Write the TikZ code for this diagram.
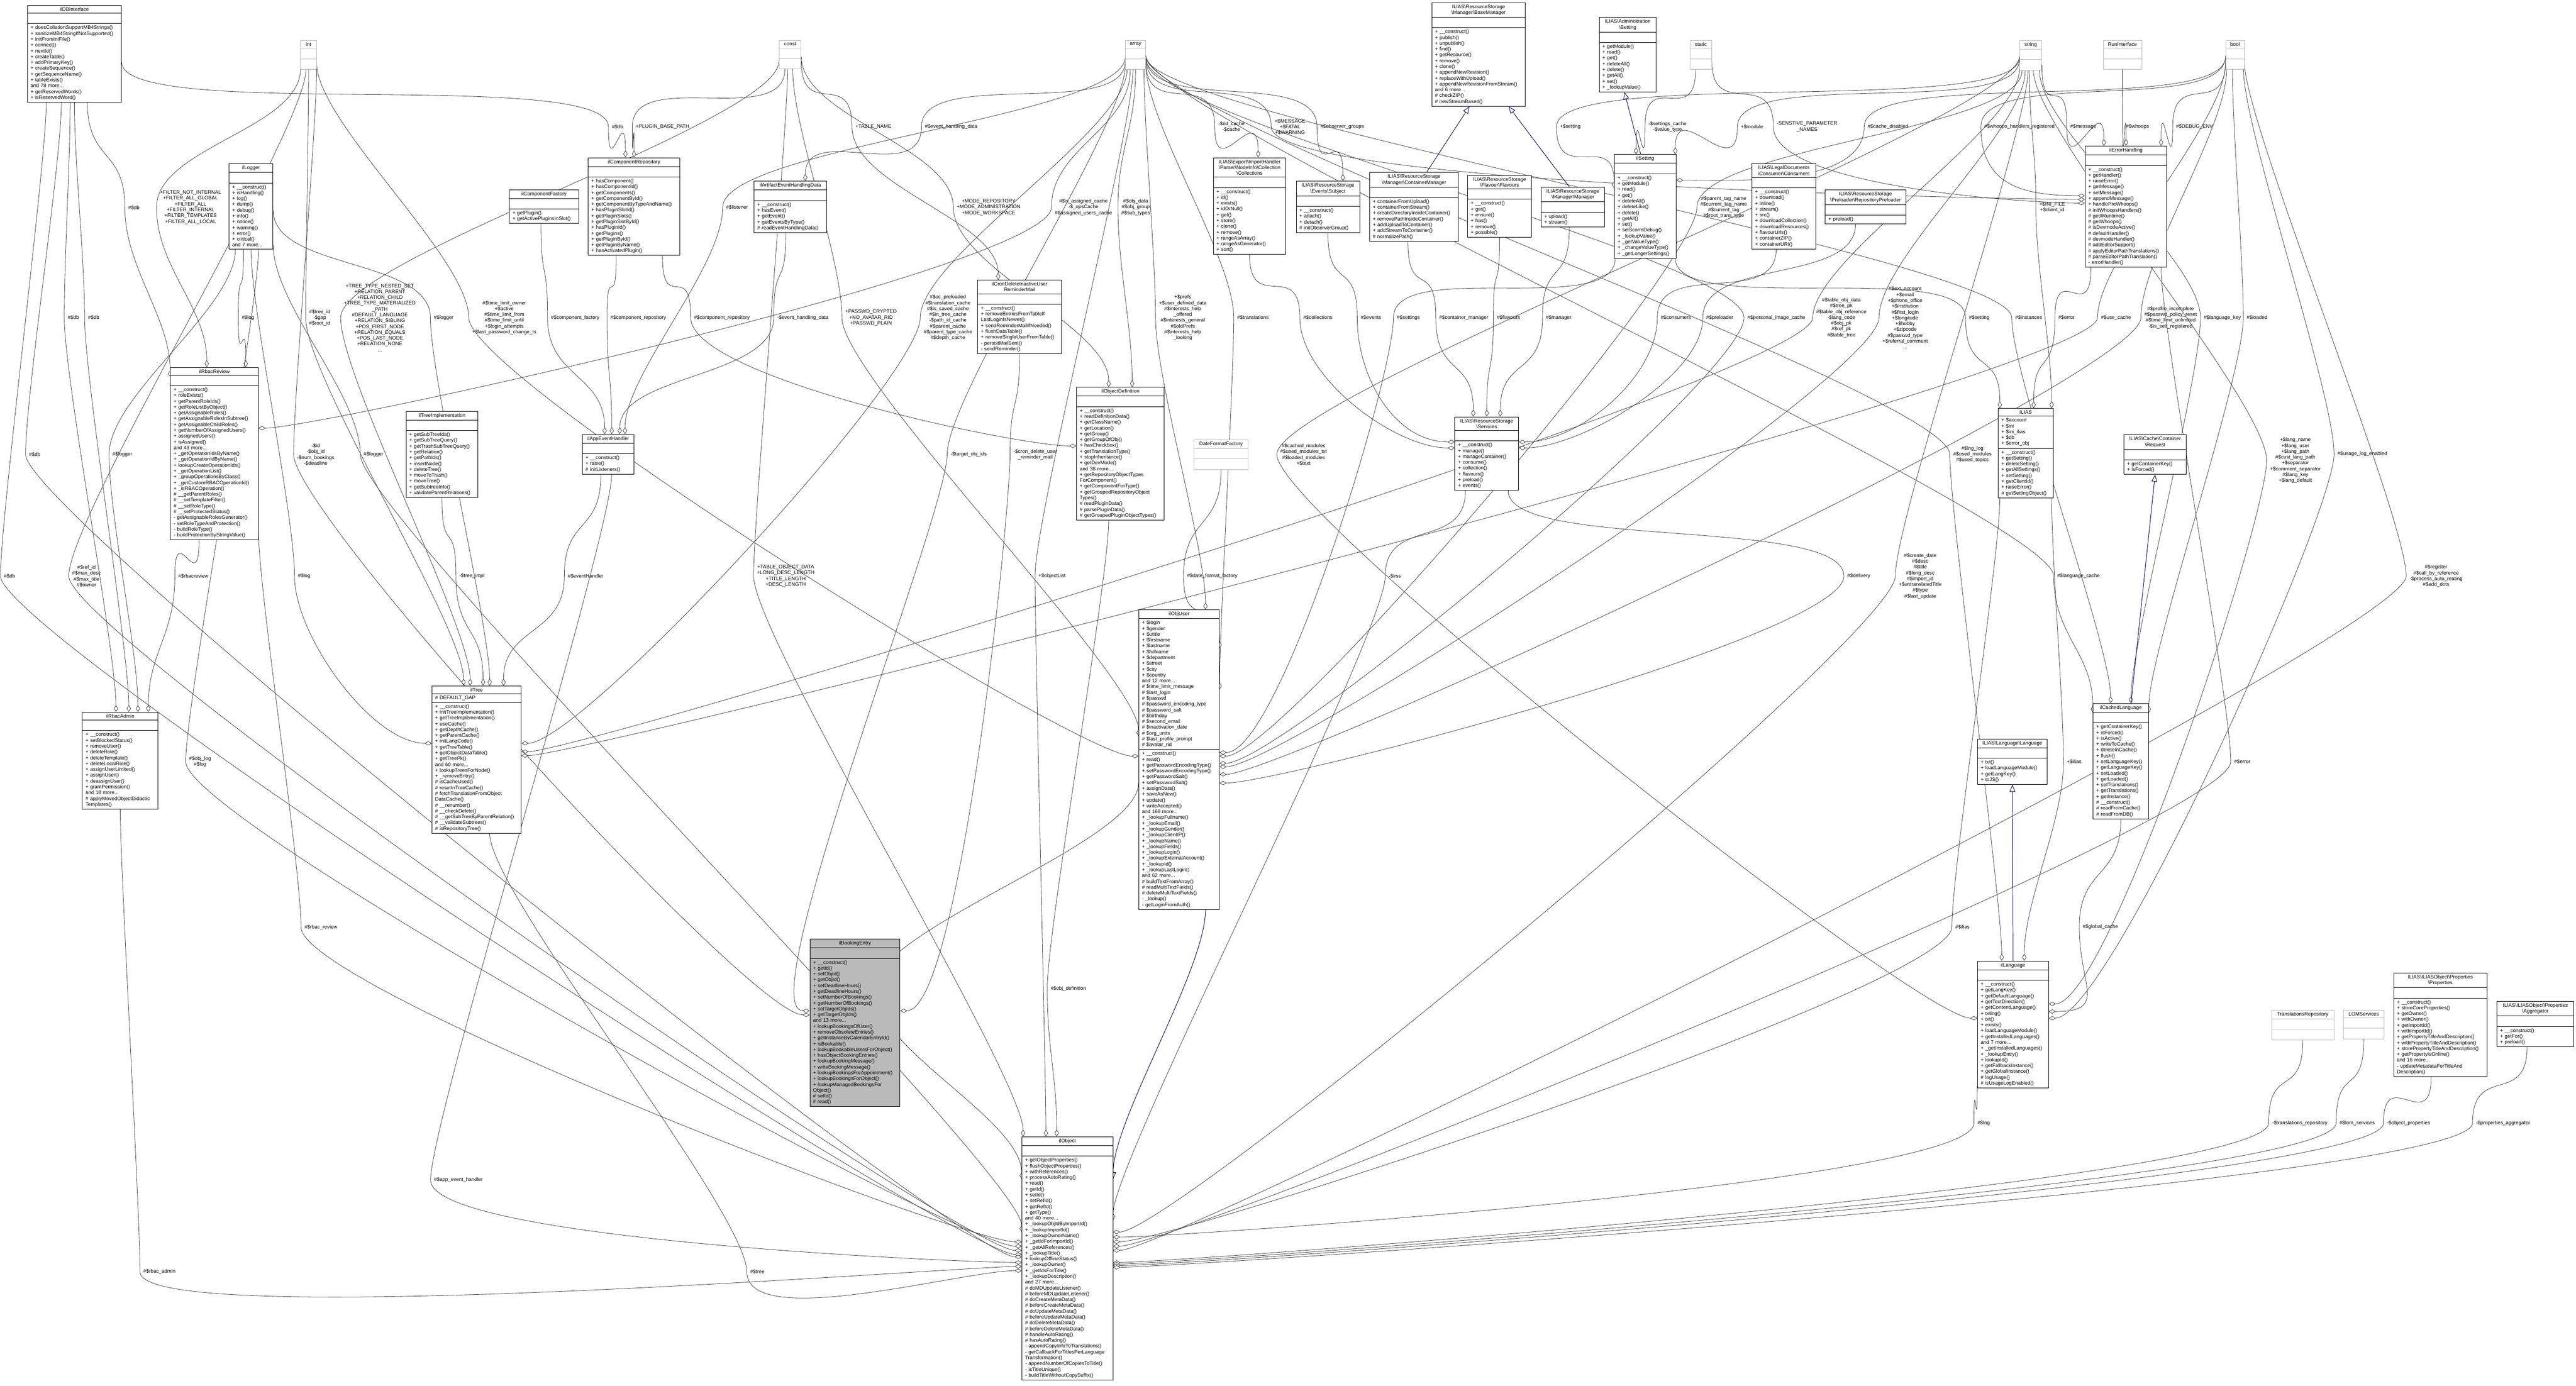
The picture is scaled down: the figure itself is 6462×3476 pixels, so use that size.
\documentclass[tikz,border=0pt]{standalone}
\usepackage{fontspec}
\setmainfont{Liberation Sans}
\usetikzlibrary{shapes.multipart,arrows.meta}
\pgfdeclarelayer{bg}
\pgfsetlayers{bg,main}
\newcommand\cfont{\fontsize{3.6}{4.15}\selectfont}
\newcommand\E{\rule{0pt}{1.6mm}}
\tikzset{
  x=0.1mm,y=-0.1mm,
  cls/.style={rectangle split,rectangle split parts=3,draw=black,fill=white,line width=0.35pt,
    inner xsep=0.8mm,inner ysep=0.45mm,font=\cfont,align=left,anchor=north west},
  tbox/.style={cls,draw=gray!55},
  lbl/.style={font=\cfont,align=center,inner sep=0pt},
  agg/.style={draw=black!75,line width=0.3pt,-{Diamond[open,fill=white,length=5pt,width=3pt]}},
  inh/.style={draw=blue!40!black,line width=0.35pt,-{Triangle[open,fill=white,length=5pt,width=4pt]}}
}
\newcommand\cls[8][]{\node[cls,#1,text width=\dimexpr #5\dimexpr0.1mm\relax-1.6mm\relax] (#2) at (#3,#4)
  {\parbox{\linewidth}{\centering #6}\nodepart{two}#7\nodepart{three}#8};}
\newcommand\tb[5]{\node[tbox,text width=\dimexpr #4\dimexpr0.1mm\relax-1.6mm\relax] (#1) at (#2,#3)
  {\parbox{\linewidth}{\centering #5}\nodepart{two}\E\nodepart{three}\E};}
\newcommand\rl[5]{\begin{pgfonlayer}{bg}\node[lbl] (tmp) at (#2) {#3};
  \draw[agg] (#1) .. controls +(-90:1.5cm) and +(90:1.5cm) .. ([xshift=-0.8mm]tmp.west)
     .. controls +(-90:1.5cm) and +(#5:1.5cm) .. (#4);\end{pgfonlayer}}
\begin{document}
\begin{tikzpicture}
\useasboundingbox (0,0) rectangle (6462,3476);
\begin{pgfonlayer}{bg}\fill[white] (0,0) rectangle (6462,3476);\end{pgfonlayer}
% type boxes
\tb{int}{754}{101}{39}{int}
\tb{const}{1954}{101}{55}{const}
\tb{array}{2823}{101}{50}{array}
\tb{static}{4239}{101}{54}{static}
\tb{string}{5066}{101}{55}{string}
\tb{runif}{5275}{101}{97}{RunInterface}
\tb{bool}{5583}{101}{46}{bool}
\tb{dff}{2995}{1103}{135}{DateFormatFactory}
\tb{trrepo}{5698}{2533}{156}{TranslationsRepository}
\tb{lom}{5878}{2533}{102}{LOMServices}
% classes
\cls{dbi}{68}{13}{236}{ilDBInterface}{\E}{+ doesCollationSupportMB4Strings()\\+ sanitizeMB4StringIfNotSupported()\\+ initFromIniFile()\\+ connect()\\+ nextId()\\+ createTable()\\+ addPrimaryKey()\\+ createSequence()\\+ getSequenceName()\\+ tableExists()\\and 78 more...\\+ getReservedWords()\\+ isReservedWord()}
\cls{logger}{574}{410}{110}{ilLogger}{\E}{+ \_\_construct()\\+ isHandling()\\+ log()\\+ dump()\\+ debug()\\+ info()\\+ notice()\\+ warning()\\+ error()\\+ critical()\\and 7 more...}
\cls{cfac}{1277}{475}{174}{ilComponentFactory}{\E}{+ getPlugin()\\+ getActivePluginsInSlot()}
\cls{crepo}{1475}{395}{230}{ilComponentRepository}{\E}{+ hasComponent()\\+ hasComponentId()\\+ getComponents()\\+ getComponentById()\\+ getComponentByTypeAndName()\\+ hasPluginSlotId()\\+ getPluginSlots()\\+ getPluginSlotById()\\+ hasPluginId()\\+ getPlugins()\\+ getPluginById()\\+ getPluginByName()\\+ hasActivatedPlugin()}
\cls{aehd}{1891}{454}{182}{ilArtifactEventHandlingData}{\E}{+ \_\_construct()\\+ hasEvent()\\+ getEvent()\\+ getEventsByType()\\\# readEventHandlingData()}
\cls{cron}{2452}{702}{210}{ilCronDeleteInactiveUser\\ReminderMail}{\E}{+ \_\_construct()\\+ removeEntriesFromTableIf\\LastLoginIsNewer()\\+ sendReminderMailIfNeeded()\\+ flushDataTable()\\+ removeSingleUserFromTable()\\- persistMailSent()\\- sendReminder()}
\cls{basemgr}{3591}{6}{235}{ILIAS\textbackslash ResourceStorage\\\textbackslash Manager\textbackslash BaseManager}{\E}{+ \_\_construct()\\+ publish()\\+ unpublish()\\+ find()\\+ getResource()\\+ remove()\\+ clone()\\+ appendNewRevision()\\+ replaceWithUpload()\\+ appendNewRevisionFromStream()\\and 6 more...\\\# checkZIP()\\\# newStreamBased()}
\cls{coll}{3043}{395}{182}{ILIAS\textbackslash Export\textbackslash ImportHandler\\\textbackslash Parser\textbackslash NodeInfo\textbackslash Collection\\\textbackslash Collections}{\E}{+ \_\_construct()\\+ id()\\+ exists()\\+ idOrNull()\\+ get()\\+ store()\\+ clone()\\+ remove()\\+ rangeAsArray()\\+ rangeAsGenerator()\\+ sort()}
\cls{subj}{3251}{454}{159}{ILIAS\textbackslash ResourceStorage\\\textbackslash Events\textbackslash Subject}{\E}{+ \_\_construct()\\+ attach()\\+ detach()\\\# initObserverGroup()}
\cls{contmgr}{3435}{432}{223}{ILIAS\textbackslash ResourceStorage\\\textbackslash Manager\textbackslash ContainerManager}{\E}{+ containerFromUpload()\\+ containerFromStream()\\+ createDirectoryInsideContainer()\\+ removePathInsideContainer()\\+ addUploadToContainer()\\+ addStreamToContainer()\\\# normalizePath()}
\cls{flav}{3681}{439}{160}{ILIAS\textbackslash ResourceStorage\\\textbackslash Flavour\textbackslash Flavours}{\E}{+ \_\_construct()\\+ get()\\+ ensure()\\+ has()\\+ remove()\\+ possible()}
\cls{mgr}{3865}{469}{160}{ILIAS\textbackslash ResourceStorage\\\textbackslash Manager\textbackslash Manager}{\E}{+ upload()\\+ stream()}
\cls{admset}{4011}{43}{143}{ILIAS\textbackslash Administration\\\textbackslash Setting}{\E}{+ getModule()\\+ read()\\+ get()\\+ deleteAll()\\+ delete()\\+ getAll()\\+ set()\\+ \_lookupValue()}
\cls{ilset}{4049}{387}{155}{ilSetting}{\E}{+ \_\_construct()\\+ getModule()\\+ read()\\+ get()\\+ deleteAll()\\+ deleteLike()\\+ delete()\\+ getAll()\\+ set()\\+ setScormDebug()\\+ \_lookupValue()\\+ \_getValueType()\\+ \_changeValueType()\\+ \_getLongerSettings()}
\cls{cons}{4394}{410}{160}{ILIAS\textbackslash LegalDocuments\\\textbackslash Consumer\textbackslash Consumers}{\E}{+ \_\_construct()\\+ download()\\+ inline()\\+ stream()\\+ src()\\+ downloadCollection()\\+ downloadResources()\\+ flavourUrls()\\+ containerZIP()\\+ containerURI()}
\cls{prel}{4578}{476}{202}{ILIAS\textbackslash ResourceStorage\\\textbackslash Preloader\textbackslash RepositoryPreloader}{\E}{+ preload()}
\cls{errh}{5230}{366}{205}{ilErrorHandling}{\E}{+ \_\_construct()\\+ getHandler()\\+ raiseError()\\+ getMessage()\\+ setMessage()\\+ appendMessage()\\+ handlePreWhoops()\\\# initWhoopsHandlers()\\\# getIlRuntime()\\\# getWhoops()\\\# isDevmodeActive()\\\# defaultHandler()\\\# devmodeHandler()\\\# addEditorSupport()\\\# applyEditorPathTranslations()\\\# parseEditorPathTranslation()\\- errorHandler()}
\cls{rbacrev}{427}{921}{220}{ilRbacReview}{\E}{+ \_\_construct()\\+ roleExists()\\+ getParentRoleIds()\\+ getRoleListByObject()\\+ getAssignableRoles()\\+ getAssignableRolesInSubtree()\\+ getAssignableChildRoles()\\+ getNumberOfAssignedUsers()\\+ assignedUsers()\\+ isAssigned()\\and 43 more...\\+ \_getOperationIdsByName()\\+ \_getOperationIdByName()\\+ lookupCreateOperationIds()\\+ \_getOperationList()\\+ \_groupOperationsByClass()\\+ \_getCustomRBACOperationId()\\+ \_isRBACOperation()\\\# \_\_getParentRoles()\\\# \_\_setTemplateFilter()\\\# \_\_setRoleType()\\\# \_\_setProtectedStatus()\\- getAssignableRolesGenerator()\\- setRoleTypeAndProtection()\\- buildRoleType()\\- buildProtectionByStringValue()}
\cls{treeimpl}{1018}{1031}{180}{ilTreeImplementation}{\E}{+ getSubTreeIds()\\+ getSubTreeQuery()\\+ getTrashSubTreeQuery()\\+ getRelation()\\+ getPathIds()\\+ insertNode()\\+ deleteTree()\\+ moveToTrash()\\+ moveTree()\\+ getSubtreeInfo()\\+ validateParentRelations()}
\cls{appev}{1460}{1089}{130}{ilAppEventHandler}{\E}{+ \_\_construct()\\+ raise()\\\# initListeners()}
\cls{rbacadm}{206}{1786}{190}{ilRbacAdmin}{\E}{+ \_\_construct()\\+ setBlockedStatus()\\+ removeUser()\\+ deleteRole()\\+ deleteTemplate()\\+ deleteLocalRole()\\+ assignUserLimited()\\+ assignUser()\\+ deassignUser()\\+ grantPermission()\\and 18 more...\\\# applyMovedObjectDidactic\\Templates()}
\cls{tree}{1083}{1720}{224}{ilTree}{\# DEFAULT\_GAP}{+ \_\_construct()\\+ initTreeImplementation()\\+ getTreeImplementation()\\+ useCache()\\+ getDepthCache()\\+ getParentCache()\\+ initLangCode()\\+ getTreeTable()\\+ getObjectDataTable()\\+ getTreePk()\\and 60 more...\\+ lookupTreesForNode()\\+ \_removeEntry()\\\# isCacheUsed()\\\# resetInTreeCache()\\\# fetchTranslationFromObject\\DataCache()\\\# \_\_renumber()\\\# \_\_checkDelete()\\\# \_\_getSubTreeByParentRelation()\\\# \_\_validateSubtrees()\\\# isRepositoryTree()}
\cls{objdef}{2700}{971}{220}{ilObjectDefinition}{\E}{+ \_\_construct()\\+ readDefinitionData()\\+ getClassName()\\+ getLocation()\\+ getGroup()\\+ getGroupOfObj()\\+ hasCheckbox()\\+ getTranslationType()\\+ stopInheritance()\\+ getDevMode()\\and 38 more...\\+ getRepositoryObjectTypes\\ForComponent()\\+ getComponentForType()\\+ getGroupedRepositoryObject\\Types()\\\# readPluginData()\\\# parsePluginData()\\\# getGroupedPluginObjectTypes()}
\cls{objuser}{2856}{1529}{202}{ilObjUser}{+ \$login\\+ \$gender\\+ \$utitle\\+ \$firstname\\+ \$lastname\\+ \$fullname\\+ \$department\\+ \$street\\+ \$city\\+ \$country\\and 12 more...\\\# \$time\_limit\_message\\\# \$last\_login\\\# \$passwd\\\# \$password\_encoding\_type\\\# \$password\_salt\\\# \$birthday\\\# \$second\_email\\\# \$inactivation\_date\\\# \$org\_units\\\# \$last\_profile\_prompt\\\# \$avatar\_rid}{+ \_\_construct()\\+ read()\\+ getPasswordEncodingType()\\+ setPasswordEncodingType()\\+ getPasswordSalt()\\+ setPasswordSalt()\\+ assignData()\\+ saveAsNew()\\+ update()\\+ writeAccepted()\\and 169 more...\\+ \_lookupFullname()\\+ \_lookupEmail()\\+ \_lookupGender()\\+ \_lookupClientIP()\\+ \_lookupName()\\+ \_lookupFields()\\+ \_lookupLogin()\\+ \_lookupExternalAccount()\\+ \_lookupId()\\+ \_lookupLastLogin()\\and 62 more...\\\# buildTextFromArray()\\\# readMultiTextFields()\\\# deleteMultiTextFields()\\- \_lookup()\\- getLoginFromAuth()}
\cls{serv}{3649}{1045}{160}{ILIAS\textbackslash ResourceStorage\\\textbackslash Services}{\E}{+ \_\_construct()\\+ manage()\\+ manageContainer()\\+ consume()\\+ collection()\\+ flavours()\\+ preload()\\+ events()}
\cls{ilias}{5012}{1024}{138}{ILIAS}{+ \$account\\+ \$ini\\+ \$ini\_ilias\\+ \$db\\+ \$error\_obj}{+ \_\_construct()\\+ getSetting()\\+ deleteSetting()\\+ getAllSettings()\\+ setSetting()\\+ getClientId()\\+ raiseError()\\\# getSettingObject()}
\cls{cachereq}{5327}{1090}{157}{ILIAS\textbackslash Cache\textbackslash Container\\\textbackslash Request}{\E}{+ getContainerKey()\\+ isForced()}
\cls{cachedlang}{5250}{1764}{139}{ilCachedLanguage}{\E}{+ getContainerKey()\\+ isForced()\\+ isActive()\\+ writeToCache()\\+ deleteInCache()\\+ flush()\\+ setLanguageKey()\\+ getLanguageKey()\\+ setLoaded()\\+ getLoaded()\\+ setTranslations()\\+ getTranslations()\\+ getInstance()\\\# \_\_construct()\\\# readFromCache()\\\# readFromDB()}
\cls{langlang}{4960}{1853}{175}{ILIAS\textbackslash Language\textbackslash Language}{\E}{+ txt()\\+ loadLanguageModule()\\+ getLangKey()\\+ toJS()}
\cls{lang}{4960}{2410}{178}{ilLanguage}{\E}{+ \_\_construct()\\+ getLangKey()\\+ getDefaultLanguage()\\+ getTextDirection()\\+ getContentLanguage()\\+ txtlng()\\+ txt()\\+ exists()\\+ loadLanguageModule()\\+ getInstalledLanguages()\\and 7 more...\\+ \_getInstalledLanguages()\\+ \_lookupEntry()\\+ lookupId()\\+ getFallbackInstance()\\+ getGlobalInstance()\\\# logUsage()\\\# isUsageLogEnabled()}
\cls{props}{6004}{2440}{234}{ILIAS\textbackslash ILIASObject\textbackslash Properties\\\textbackslash Properties}{\E}{+ \_\_construct()\\+ storeCoreProperties()\\+ getOwner()\\+ withOwner()\\+ getImportId()\\+ withImportId()\\+ getPropertyTitleAndDescription()\\+ withPropertyTitleAndDescription()\\+ storePropertyTitleAndDescription()\\+ getPropertyIsOnline()\\and 16 more...\\- updateMetadataForTitleAnd\\Description()}
\cls{aggr}{6263}{2511}{193}{ILIAS\textbackslash ILIASObject\textbackslash Properties\\\textbackslash Aggregator}{\E}{+ \_\_construct()\\+ getFor()\\+ preload()}
\cls[fill=black!27]{booking}{2031}{2355}{226}{ilBookingEntry}{\E}{+ \_\_construct()\\+ getId()\\+ setObjId()\\+ getObjId()\\+ setDeadlineHours()\\+ getDeadlineHours()\\+ setNumberOfBookings()\\+ getNumberOfBookings()\\+ setTargetObjIds()\\+ getTargetObjIds()\\and 13 more...\\+ lookupBookingsOfUser()\\+ removeObsoleteEntries()\\+ getInstanceByCalendarEntryId()\\+ isBookable()\\+ lookupBookableUsersForObject()\\+ hasObjectBookingEntries()\\+ lookupBookingMessage()\\+ writeBookingMessage()\\+ lookupBookingsForAppointment()\\+ lookupBookingsForObject()\\+ lookupManagedBookingsFor\\Object()\\\# setId()\\\# read()}
\cls{obj}{2563}{2851}{228}{ilObject}{\E}{+ getObjectProperties()\\+ flushObjectProperties()\\+ withReferences()\\+ processAutoRating()\\+ read()\\+ getId()\\+ setId()\\+ setRefId()\\+ getRefId()\\+ getType()\\and 40 more...\\+ \_lookupObjIdByImportId()\\+ \_lookupImportId()\\+ \_lookupOwnerName()\\+ \_getIdForImportId()\\+ \_getAllReferences()\\+ \_lookupTitle()\\+ lookupOfflineStatus()\\+ \_lookupOwner()\\+ \_getIdsForTitle()\\+ \_lookupDescription()\\and 27 more...\\\# doMDUpdateListener()\\\# beforeMDUpdateListener()\\\# doCreateMetaData()\\\# beforeCreateMetaData()\\\# doUpdateMetaData()\\\# beforeUpdateMetaData()\\\# doDeleteMetaData()\\\# beforeDeleteMetaData()\\\# handleAutoRating()\\\# hasAutoRating()\\- appendCopyInfoToTranslations()\\- getCallbackForTitlesPerLanguage\\Transformation()\\- appendNumberOfCopiesToTitle()\\- isTitleUnique()\\- buildTitleWithoutCopySuffix()}
% relations
\rl{dbi.-75}{336,521}{\#\$db}{rbacrev.120}{90}
\rl{dbi.-95}{184,797}{\#\$db}{rbacadm.95}{90}
\rl{dbi.-90}{235,797}{\#\$db}{rbacadm.80}{90}
\rl{dbi.-120}{24,1445}{\#\$db}{obj.175}{180}
\rl{dbi.-105}{87,1140}{\#\$db}{obj.178}{180}
\rl{dbi.-10}{1549,318}{\#\$db}{crepo.100}{90}
\rl{int.-120}{478,520}{+FILTER\_NOT\_INTERNAL\\+FILTER\_ALL\_GLOBAL\\+FILTER\_ALL\\+FILTER\_INTERNAL\\+FILTER\_TEMPLATES\\+FILTER\_ALL\_LOCAL}{rbacrev.95}{90}
\rl{logger.-100}{622,797}{\#\$log}{rbacrev.70}{90}
\rl{int.-90}{802,797}{\#\$tree\_id\\-\$gap\\\#\$root\_id}{tree.100}{90}
\rl{const.-150}{953,797}{+TREE\_TYPE\_NESTED\_SET\\+RELATION\_PARENT\\+RELATION\_CHILD\\+TREE\_TYPE\_MATERIALIZED\\\_PATH\\\#DEFAULT\_LANGUAGE\\+RELATION\_SIBLING\\+POS\_FIRST\_NODE\\+RELATION\_EQUALS\\+POS\_LAST\_NODE\\+RELATION\_NONE\\...}{tree.95}{90}
\rl{logger.-10}{1113,797}{\#\$logger}{tree.80}{90}
\rl{int.-45}{1265,797}{\#\$time\_limit\_owner\\+\$active\\\#\$time\_limit\_from\\\#\$time\_limit\_until\\+\$login\_attempts\\+\$last\_password\_change\_ts}{objuser.175}{180}
\rl{cfac.-100}{1443,797}{\#\$component\_factory}{appev.100}{90}
\rl{crepo.-110}{1601,797}{\#\$component\_repository}{appev.80}{90}
\rl{crepo.-60}{1811,797}{\#\$component\_repository}{objdef.170}{180}
\rl{aehd.-100}{2014,797}{-\$event\_handling\_data}{appev.60}{90}
\rl{const.-110}{1662,318}{+PLUGIN\_BASE\_PATH}{crepo.north}{90}
\rl{array.-150}{2386,318}{\#\$event\_handling\_data}{aehd.60}{90}
\rl{const.-30}{2191,318}{+TABLE\_NAME}{cron.120}{90}
\rl{const.-80}{2185,797}{+PASSWD\_CRYPTED\\+NO\_AVATAR\_RID\\+PASSWD\_PLAIN}{objuser.150}{90}
\rl{array.-120}{2378,797}{\#\$oc\_preloaded\\\#\$translation\_cache\\\#\$is\_saved\_cache\\\#\$in\_tree\_cache\\-\$path\_id\_cache\\\#\$parent\_cache\\\#\$parent\_type\_cache\\\#\$depth\_cache}{tree.20}{0}
\rl{const.-10}{2480,520}{+MODE\_REPOSITORY\\+MODE\_ADMINISTRATION\\+MODE\_WORKSPACE}{objdef.100}{90}
\rl{array.-170}{1849,520}{\#\$listener}{appev.50}{90}
\rl{array.-110}{2718,520}{\#\$is\_assigned\_cache\\-\$\_opsCache\\\#\$assigned\_users\_cache}{rbacrev.30}{0}
\rl{array.-90}{2849,520}{\#\$obj\_data\\\#\$obj\_group\\\#\$sub\_types}{objdef.80}{90}
\rl{array.-60}{2967,797}{+\$prefs\\+\$user\_defined\_data\\\#\$interests\_help\\\_offered\\\#\$interests\_general\\\#\$oldPrefs\\\#\$interests\_help\\\_looking}{objuser.80}{90}
\rl{array.-30}{3089,318}{-\$rid\_cache\\-\$cache}{coll.80}{90}
\rl{array.-15}{3236,318}{+\$MESSAGE\\+\$FATAL\\+\$WARNING}{errh.170}{180}
\rl{array.-5}{3367,318}{\#\$observer\_groups}{subj.60}{90}
\rl{array.-40}{3143,797}{\#\$translations}{objuser.60}{90}
\rl{coll.-90}{3306,797}{\#\$collections}{serv.170}{180}
\rl{subj.-90}{3439,797}{\#\$events}{serv.160}{180}
\rl{ilset.-120}{3533,797}{\#\$settings}{objuser.10}{0}
\rl{contmgr.-100}{3672,797}{\#\$container\_manager}{serv.110}{90}
\rl{flav.-90}{3784,797}{\#\$flavours}{serv.90}{90}
\rl{mgr.-100}{3910,797}{\#\$manager}{serv.70}{90}
\rl{cons.-100}{4204,797}{\#\$consumers}{serv.20}{0}
\rl{prel.-120}{4314,797}{\#\$preloader}{serv.10}{0}
\rl{string.-170}{3939,318}{+\$setting}{ilset.150}{90}
\rl{static.-110}{4183,318}{-\$settings\_cache\\-\$value\_type}{ilset.100}{90}
\rl{string.-160}{4395,318}{+\$module}{ilset.60}{90}
\rl{static.-30}{4533,318}{-SENSTIVE\_PARAMETER\\\_NAMES}{errh.175}{180}
\rl{bool.-170}{4736,318}{\#\$cache\_disabled}{ilset.40}{0}
\rl{bool.-175}{5066,318}{\#\$whoops\_handlers\_registered}{errh.165}{180}
\rl{string.-40}{5226,318}{\#\$message}{errh.110}{90}
\rl{runif.south}{5362,318}{\#\$whoops}{errh.north}{90}
\rl{bool.-150}{5505,318}{\#\$DEBUG\_ENV}{errh.60}{90}
\rl{string.-120}{4324,520}{\#\$parent\_tag\_name\\\#\$current\_tag\_name\\\#\$current\_tag\\\#\$root\_trans\_type}{objuser.5}{0}
\rl{string.-95}{5148,520}{+\$INI\_FILE\\+\$client\_id}{ilias.60}{90}
\rl{array.-20}{4456,797}{\#\$personal\_image\_cache}{objuser.-5}{0}
\rl{string.-130}{4619,797}{\#\$table\_obj\_data\\\#\$tree\_pk\\\#\$table\_obj\_reference\\-\$lang\_code\\\#\$obj\_pk\\\#\$ref\_pk\\\#\$table\_tree}{tree.10}{0}
\rl{string.-110}{4779,797}{\#\$ext\_account\\+\$email\\+\$phone\_office\\+\$institution\\\#\$first\_login\\+\$longitude\\+\$hobby\\+\$zipcode\\\#\$passwd\_type\\+\$referral\_comment\\...}{objuser.-10}{0}
\rl{ilset.-60}{4965,797}{\#\$setting}{ilias.120}{90}
\rl{array.-10}{5089,797}{\#\$instances}{cachedlang.100}{90}
\rl{errh.-120}{5184,797}{\#\$error}{ilias.80}{90}
\rl{bool.-140}{5308,797}{\#\$use\_cache}{tree.5}{0}
\rl{bool.-120}{5445,797}{\#\$profile\_incomplete\\\#\$passwd\_policy\_reset\\\#\$time\_limit\_unlimited\\-\$is\_self\_registered}{objuser.-20}{0}
\rl{string.-60}{5575,797}{\#\$language\_key}{cachedlang.80}{90}
\rl{bool.-100}{5662,797}{\#\$loaded}{cachedlang.60}{90}
\rl{string.-175}{3270,1140}{\#\$cached\_modules\\\#\$used\_modules\_txt\\\#\$loaded\_modules\\+\$text}{lang.170}{180}
\rl{array.-8}{4948,1140}{\#\$lng\_log\\\#\$used\_modules\\\#\$used\_topics}{lang.100}{90}
\rl{array.-3}{5214,1445}{\#\$language\_cache}{cachedlang.120}{90}
\rl{string.-80}{5758,1155}{+\$lang\_name\\+\$lang\_user\\+\$lang\_path\\\#\$cust\_lang\_path\\+\$separator\\+\$comment\_separator\\\#\$lang\_key\\+\$lang\_default}{lang.30}{0}
\rl{bool.-60}{5926,1139}{\#\$usage\_log\_enabled}{lang.10}{0}
\rl{bool.-40}{6111,1445}{\#\$register\\\#\$call\_by\_reference\\-\$process\_auto\_reating\\\#\$add\_dots}{obj.10}{0}
\rl{ilias.-60}{5203,1911}{+\$ilias}{lang.80}{90}
\rl{errh.-60}{5625,1911}{\#\$error}{obj.15}{0}
\rl{ilias.-120}{4923,2325}{\#\$ilias}{obj.20}{0}
\rl{cachedlang.-90}{5269,2325}{\#\$global\_cache}{lang.20}{0}
\rl{lang.-120}{4976,2817}{\#\$lng}{obj.25}{0}
\rl{trrepo.south}{5769,2817}{-\$translations\_repository}{obj.-5}{0}
\rl{lom.south}{5913,2817}{\#\$lom\_services}{obj.-7}{0}
\rl{props.-100}{6042,2817}{-\$object\_properties}{obj.-9}{0}
\rl{aggr.-110}{6279,2817}{-\$properties\_aggregator}{obj.-11}{0}
\rl{serv.-120}{3499,1445}{-\$irss}{obj.40}{90}
\rl{string.-100}{4817,1445}{\#\$create\_date\\\#\$desc\\\#\$title\\\#\$long\_desc\\\#\$import\_id\\+\$untranslatedTitle\\\#\$type\\\#\$last\_update}{obj.30}{0}
\rl{serv.-60}{4663,1445}{\#\$delivery}{objuser.-30}{0}
\rl{const.-100}{1971,1445}{+TABLE\_OBJECT\_DATA\\+LONG\_DESC\_LENGTH\\+TITLE\_LENGTH\\+DESC\_LENGTH}{obj.110}{90}
\rl{array.-100}{2639,1445}{+\$objectList}{obj.100}{90}
\rl{dff.south}{3041,1445}{\#\$date\_format\_factory}{objuser.70}{90}
\rl{array.-135}{2430,1140}{-\$target\_obj\_ids}{booking.165}{180}
\rl{cron.-90}{2597,1140}{-\$cron\_delete\_user\\\_reminder\_mail}{booking.15}{0}
\rl{int.-60}{792,1140}{-\$id\\-\$obj\_id\\-\$num\_bookings\\-\$deadline}{booking.170}{180}
\rl{logger.-60}{937,1140}{\#\$logger}{obj.150}{90}
\rl{logger.-110}{307,1140}{\#\$logger}{rbacadm.70}{90}
\rl{int.-100}{217,1445}{\#\$ref\_id\\\#\$max\_desc\\\#\$max\_title\\\#\$owner}{obj.170}{180}
\rl{rbacrev.-100}{485,1445}{\#\$rbacreview}{rbacadm.60}{90}
\rl{logger.-90}{763,1445}{\#\$log}{tree.160}{180}
\rl{treeimpl.south}{1184,1445}{-\$tree\_impl}{tree.85}{90}
\rl{appev.-110}{1469,1445}{\#\$eventHandler}{tree.70}{90}
\rl{logger.-80}{502,1911}{\#\$obj\_log\\\#\$log}{obj.165}{180}
\rl{rbacrev.-60}{805,2326}{\#\$rbac\_review}{obj.160}{180}
\rl{rbacadm.south}{400,3190}{\#\$rbac\_admin}{obj.-170}{180}
\rl{appev.-80}{1150,2960}{\#\$app\_event\_handler}{obj.-175}{180}
\rl{tree.-80}{1900,3190}{\#\$tree}{obj.-165}{180}
\rl{objuser.-150}{2220,2480}{\#\$user}{obj.120}{90}
\rl{objdef.-100}{2680,2480}{\#\$obj\_definition}{obj.95}{90}
\begin{pgfonlayer}{bg}
\draw[inh] (objuser.-80) .. controls +(-90:1.5cm) and +(90:1.5cm) .. (obj.60);
\draw[inh] (ilset.95) -- (admset.-95);
\draw[inh] (contmgr.70) -- (basemgr.-100);
\draw[inh] (mgr.100) -- (basemgr.-60);
\draw[inh] (cachedlang.80) -- (cachereq.-90);
\draw[inh] (lang.north) -- (langlang.south);
\end{pgfonlayer}
\end{tikzpicture}
\end{document}
